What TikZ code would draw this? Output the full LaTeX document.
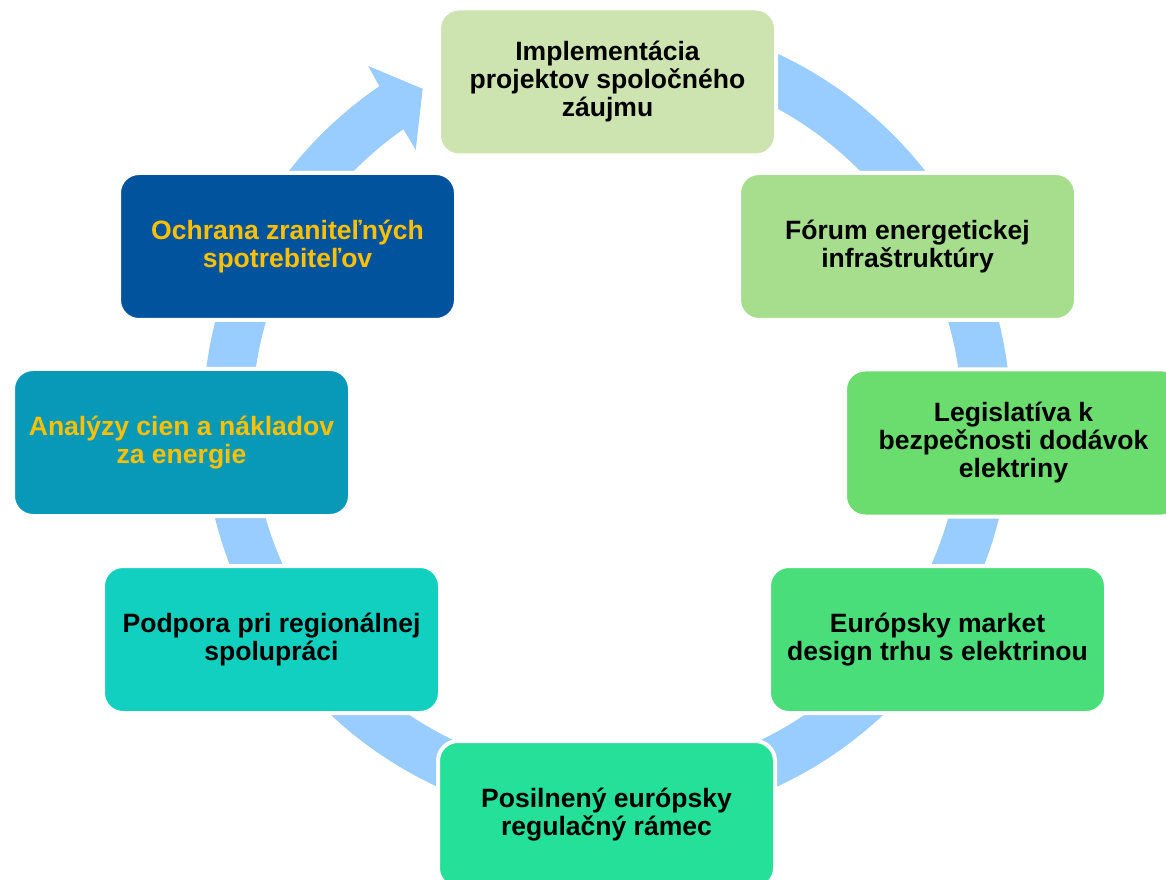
\documentclass[tikz,border=0pt]{standalone}
\usepackage{fontspec}
\setmainfont{Liberation Sans}
\usetikzlibrary{calc}
\definecolor{ringc}{RGB}{153,204,255}
\definecolor{cA}{RGB}{205,227,176}
\definecolor{cB}{RGB}{166,222,142}
\definecolor{cC}{RGB}{107,220,110}
\definecolor{cD}{RGB}{74,222,122}
\definecolor{cE}{RGB}{36,224,152}
\definecolor{cF}{RGB}{18,208,192}
\definecolor{cG}{RGB}{8,152,184}
\definecolor{cH}{RGB}{0,83,156}
\definecolor{ytext}{RGB}{255,192,0}
\tikzset{
  box/.style={draw=white, line width=3pt, rounded corners=15pt, inner sep=0pt,
    minimum width=252.75pt, minimum height=110.25pt, align=center,
    font=\fontsize{19.9}{21}\selectfont\bfseries},
}
\begin{document}
\begin{tikzpicture}[x=0.75pt,y=0.75pt]
\useasboundingbox (0,0) rectangle (1166,879);
\coordinate (c) at (607,459);
% circular arrow
\fill[ringc] ($(c)+(95:303pt)$) arc[start angle=95, end angle=-235.7, radius=303pt]
  -- ($(c)+(124.0:320.25pt)$)
  -- ($(c)+(119.1:284.25pt)$)
  -- ($(c)+(125.3:248.25pt)$)
  -- ($(c)+(125.0:266.25pt)$)
  arc[start angle=-235.0, end angle=95, radius=266.25pt] -- cycle;
% boxes
\node[box, fill=cA] (n1) at (607.5,797) {Implementácia\\projektov spoločného\\záujmu};
\node[box, fill=cB] (n2) at (907.5,632.5) {Fórum energetickej\\infraštruktúry};
\node[box, fill=cC] (n3) at (1013.5,436) {Legislatíva k\\bezpečnosti dodávok\\elektriny};
\node[box, fill=cD] (n4) at (937.5,239.5) {Európsky market\\design trhu s elektrinou};
\node[box, fill=cE] (n5) at (606.5,64.5) {Posilnený európsky\\regulačný rámec};
\node[box, fill=cF] (n6) at (271.5,239.5) {Podpora pri regionálnej\\spolupráci};
\node[box, fill=cG, text=ytext] (n7) at (181.5,436.5) {Analýzy cien a nákladov\\za energie};
\node[box, fill=cH, text=ytext] (n8) at (287.5,632.5) {Ochrana zraniteľných\\spotrebiteľov};
\end{tikzpicture}
\end{document}
